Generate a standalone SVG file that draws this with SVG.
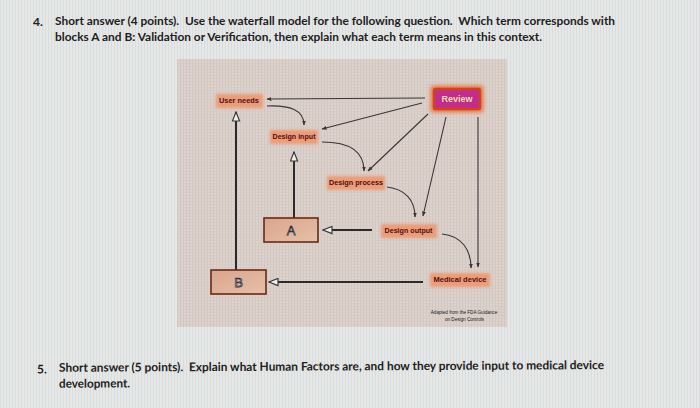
<svg xmlns="http://www.w3.org/2000/svg" width="700" height="408" viewBox="0 0 700 408">
<defs>
<style>
.q{font-family:Lato,"Open Sans","Liberation Sans",sans-serif;font-size:12px;font-weight:bold;fill:#1f2020}
.lbl{font-family:"Liberation Sans",Arial,sans-serif;font-size:6.5px;font-weight:bold;fill:#5a0c10;text-anchor:middle}
.glow{fill:#eb9c78;filter:url(#blur)}
.ln{fill:none;stroke:#3a3636;stroke-width:1.1}
.hl{fill:none;stroke:#2c2a2a;stroke-width:2}
.box{fill:url(#boxg);stroke:#6a2a12;stroke-width:1.6}
.boxt{font-family:"Liberation Sans",Arial,sans-serif;font-size:13px;fill:#eef4fa;stroke:#303040;stroke-width:0.75;text-anchor:middle}
.fn{font-family:"Liberation Sans",Arial,sans-serif;font-size:4.6px;fill:#1a1a1a;text-anchor:middle}
</style>
<filter id="blur" x="-40%" y="-80%" width="180%" height="260%"><feGaussianBlur stdDeviation="1.6"/></filter>
<filter id="blur2" x="-40%" y="-80%" width="180%" height="260%"><feGaussianBlur stdDeviation="2"/></filter>
<linearGradient id="boxg" x1="0" y1="0" x2="1" y2="1">
<stop offset="0" stop-color="#d9a58c"/><stop offset="1" stop-color="#e7c0a8"/>
</linearGradient>
<pattern id="scan" width="3" height="3" patternUnits="userSpaceOnUse">
<rect width="3" height="3" fill="#e6e8e8"/><rect width="1" height="3" fill="#d9dcdc"/>
</pattern>
<pattern id="grid" width="3" height="3" patternUnits="userSpaceOnUse">
<rect width="3" height="3" fill="#ddd2cc"/><rect width="1" height="3" fill="#d2c6c0"/><rect width="3" height="0.8" fill="#d6cac4"/>
</pattern>
<marker id="fa" viewBox="0 0 10 10" refX="9" refY="5" markerWidth="5" markerHeight="5" orient="auto" markerUnits="userSpaceOnUse">
<path d="M0,1 L10,5 L0,9 Z" fill="#3a3636"/>
</marker>
<marker id="ha" viewBox="0 0 12 10" refX="11" refY="5" markerWidth="11" markerHeight="9" orient="auto" markerUnits="userSpaceOnUse">
<path d="M1,1 L11,5 L1,9 Z" fill="#eef0f0" stroke="#3a3a3a" stroke-width="1.3" stroke-linejoin="miter"/>
</marker>
</defs>

<rect width="700" height="408" fill="url(#scan)"/>

<g id="question4">
<text class="q" x="33" y="25.5">4.</text>
<text class="q" x="55" y="25" textLength="560" lengthAdjust="spacingAndGlyphs" xml:space="preserve">Short answer (4 points).  Use the waterfall model for the following question.  Which term corresponds with</text>
<text class="q" x="55" y="40.5" textLength="487" lengthAdjust="spacingAndGlyphs">blocks A and B:  Validation or Verification, then explain what each term means in this context.</text>
</g>

<rect id="panel" x="177" y="59" width="330" height="268" fill="url(#grid)"/>

<g id="connectors">
<path class="ln" marker-end="url(#fa)" d="M425,98 L267,99"/>
<path class="ln" marker-end="url(#fa)" d="M422,103 L322,129"/>
<path class="ln" marker-end="url(#fa)" d="M428,114 L368,171"/>
<path class="ln" marker-end="url(#fa)" d="M446,117 L423,216"/>
<path class="ln" marker-end="url(#fa)" d="M478,117 L478,267"/>
<path class="ln" marker-end="url(#fa)" d="M267,106 C290,105 304,110 304,125"/>
<path class="ln" marker-end="url(#fa)" d="M322,142 C350,142 364,152 364,171"/>
<path class="ln" marker-end="url(#fa)" d="M387,187 C405,189 415,200 415,217"/>
<path class="ln" marker-end="url(#fa)" d="M442,234 C462,236 471,250 471,268"/>
<path class="hl" marker-end="url(#ha)" d="M372,230 L323,230"/>
<path class="hl" marker-end="url(#ha)" d="M294,218 L294,152"/>
<path class="hl" marker-end="url(#ha)" d="M423,282 L269,282"/>
<path class="hl" marker-end="url(#ha)" d="M236,270 L236,112"/>
</g>

<g id="node-user-needs">
<rect class="glow" x="216" y="94" width="47" height="14"/>
<text class="lbl" x="239" y="103.3" textLength="40" lengthAdjust="spacingAndGlyphs">User needs</text>
</g>
<g id="node-review">
<rect x="431" y="86" width="52" height="26" fill="#e86a30" filter="url(#blur2)"/>
<rect x="434" y="89" width="46" height="20" rx="2" fill="#c22c8e" stroke="#d8401a" stroke-width="2.4"/>
<text x="457" y="102" font-family="Liberation Sans, Arial, sans-serif" font-size="8.5" font-weight="bold" fill="#f6dea4" text-anchor="middle" textLength="31" lengthAdjust="spacingAndGlyphs">Review</text>
</g>
<g id="node-design-input">
<rect class="glow" x="270" y="130" width="48" height="14"/>
<text class="lbl" x="294" y="139.3" textLength="43" lengthAdjust="spacingAndGlyphs">Design input</text>
</g>
<g id="node-design-process">
<rect class="glow" x="327" y="176" width="58" height="14"/>
<text class="lbl" x="356" y="185.3" textLength="54" lengthAdjust="spacingAndGlyphs">Design process</text>
</g>
<g id="node-design-output">
<rect class="glow" x="381" y="224" width="56" height="14"/>
<text class="lbl" x="408.5" y="233" textLength="48" lengthAdjust="spacingAndGlyphs">Design output</text>
</g>
<g id="node-medical-device">
<rect class="glow" x="430" y="273" width="60" height="14"/>
<text class="lbl" x="460" y="282.3" textLength="53" lengthAdjust="spacingAndGlyphs">Medical device</text>
</g>
<g id="node-a">
<rect class="box" x="264" y="218" width="54" height="24"/>
<text class="boxt" x="291" y="235">A</text>
</g>
<g id="node-b">
<rect class="box" x="211" y="270" width="55" height="24"/>
<text class="boxt" x="238.5" y="287">B</text>
</g>
<g id="footnote">
<text class="fn" x="464" y="313.5">Adapted from the FDA Guidance</text>
<text class="fn" x="464.5" y="320.5">on Design Controls</text>
</g>

<g id="question5" transform="rotate(-0.28 330 370)">
<text class="q" x="37" y="372">5.</text>
<text class="q" x="59" y="370.5" textLength="545" lengthAdjust="spacingAndGlyphs" xml:space="preserve">Short answer (5 points).  Explain what Human Factors are, and how they provide input to medical device</text>
<text class="q" x="59" y="386.5" textLength="71" lengthAdjust="spacingAndGlyphs">development.</text>
</g>
</svg>
